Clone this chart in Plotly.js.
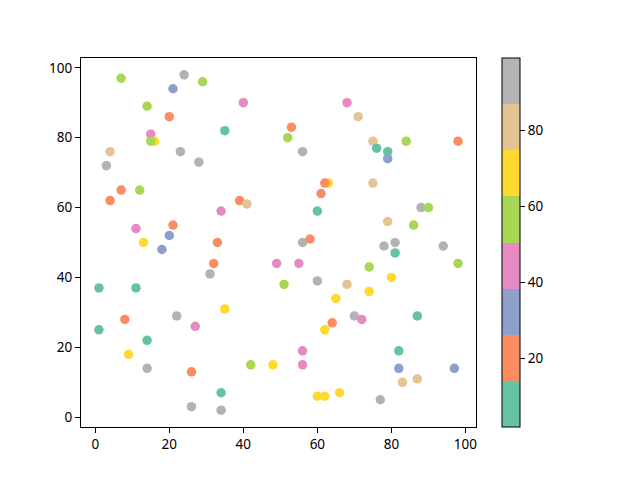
<!DOCTYPE html>
<html>
<head>
<meta charset="utf-8">
<script src="https://cdn.plot.ly/plotly-3.0.1.min.js"></script>
<style>
  body { margin: 0; background: #fff; }
  #chart { width: 640px; height: 480px; }
</style>
</head>
<body>
<div id="chart"></div>
<script>
// point positions
const xs = [7, 24, 29, 21, 40, 14, 20, 35, 15, 16, 15, 4, 23, 3, 28, 7, 12, 4, 39, 41,
            34, 21, 11, 20, 13, 33, 68, 71, 53, 52, 56, 75, 76, 79, 79, 84, 98, 63, 62, 61,
            75, 60, 88, 90, 79, 86, 56, 58, 78, 81, 94, 18, 32, 49, 31, 1, 11, 51, 35, 22,
            8, 27, 1, 14, 9, 14, 42, 48, 26, 34, 26, 34, 81, 98, 55, 74, 80, 60, 68, 74,
            65, 70, 72, 87, 64, 62, 56, 82, 56, 82, 97, 83, 87, 60, 62, 66, 77];
const ys = [97, 98, 96, 94, 90, 89, 86, 82, 81, 79, 79, 76, 76, 72, 73, 65, 65, 62, 62, 61,
            59, 55, 54, 52, 50, 50, 90, 86, 83, 80, 76, 79, 77, 76, 74, 79, 79, 67, 67, 64,
            67, 59, 60, 60, 56, 55, 50, 51, 49, 50, 49, 48, 44, 44, 41, 37, 37, 38, 31, 29,
            28, 26, 25, 22, 18, 14, 15, 15, 13, 7, 3, 2, 47, 44, 44, 43, 40, 39, 38, 36,
            34, 29, 28, 29, 27, 25, 19, 19, 15, 14, 14, 10, 11, 6, 6, 7, 5];
// colour values (estimated from the colour band of each point)
const cs = [55, 93, 58, 30, 44, 52, 19, 6, 41, 68, 60, 80, 90, 96, 88, 22, 57, 15, 24, 83,
            47, 17, 40, 33, 71, 20, 46, 77, 25, 61, 91, 85, 9, 3, 35, 54, 18, 64, 21, 16,
            79, 12, 97, 56, 84, 59, 89, 23, 94, 92, 99, 29, 17, 48, 90, 8, 11, 51, 66, 95,
            23, 39, 5, 2, 73, 90, 60, 70, 19, 13, 98, 91, 7, 53, 42, 56, 63, 88, 81, 67,
            72, 89, 45, 10, 22, 65, 43, 4, 44, 36, 28, 77, 84, 69, 72, 64, 93];
const cMin = 2, cMax = 99;
const xTicks = [0, 20, 40, 60, 80, 100];
const yTicks = [0, 20, 40, 60, 80, 100];
const barTicks = [20, 40, 60, 80];
const set2 = ['#66c2a5', '#fc8d62', '#8da0cb', '#e78ac3',
              '#a6d854', '#ffd92f', '#e5c494', '#b3b3b3'];

/**
 * Builds a stepped colorscale from a list of colours.
 * @param  {array} colors list of colours
 * @return {array}        plotly colorscale
 */
function steppedScale(colors){
  const n = colors.length;
  const scale = [];
  colors.forEach(function(col, i){
    scale.push([i / n, col]);
    scale.push([(i + 1) / n, col]);
  });
  return scale;
}

const font = {family: 'Noto Sans, DejaVu Sans, sans-serif', size: 13.5, color: '#000'};

const trace = {
  x: xs,
  y: ys,
  mode: 'markers',
  type: 'scatter',
  marker: {
    size: 9.5,
    color: cs,
    cmin: cMin,
    cmax: cMax,
    colorscale: steppedScale(set2),
    line: {width: 0},
    colorbar: {
      x: 1.067, xanchor: 'left', xpad: 0,
      y: 0.5, yanchor: 'middle', ypad: 0,
      len: 1, lenmode: 'fraction',
      thickness: 18,
      outlinewidth: 1, outlinecolor: '#000',
      tickvals: barTicks,
      ticks: 'outside', ticklen: 5, tickwidth: 1.1, tickcolor: '#000',
      tickfont: font
    }
  },
  hoverinfo: 'x+y'
};

const axis = {
  showgrid: false,
  zeroline: false,
  showline: true,
  mirror: true,
  linecolor: '#000',
  linewidth: 1.1,
  ticks: 'outside',
  ticklen: 5,
  tickwidth: 1.1,
  tickcolor: '#000',
  tickfont: font
};

const layout = {
  width: 640,
  height: 480,
  margin: {l: 81, r: 164, t: 58, b: 53},
  paper_bgcolor: '#fff',
  plot_bgcolor: '#fff',
  showlegend: false,
  font: font,
  xaxis: Object.assign({}, axis, {range: [-3.85, 102.85], tickvals: xTicks}),
  yaxis: Object.assign({}, axis, {range: [-2.8, 102.8], tickvals: yTicks})
};

Plotly.newPlot('chart', [trace], layout, {displayModeBar: false, staticPlot: true});
</script>
</body>
</html>
